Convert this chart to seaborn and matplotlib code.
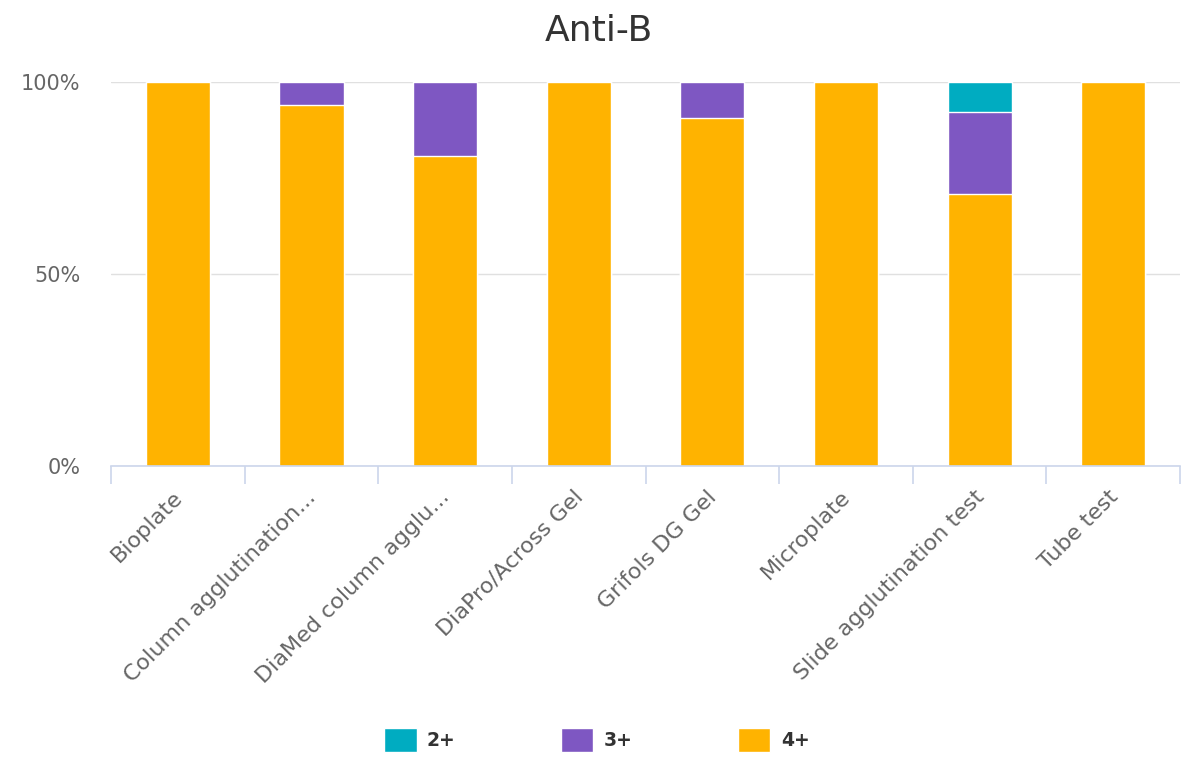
import numpy as np
import pandas as pd
import matplotlib
matplotlib.use("Agg")
import matplotlib.pyplot as plt
import matplotlib.transforms as mtransforms
import seaborn as sns

# Data (percent of results per method)
methods = ["Bioplate", "Column agglutination...", "DiaMed column agglu...",
           "DiaPro/Across Gel", "Grifols DG Gel", "Microplate",
           "Slide agglutination test", "Tube test"]
grade_2 = [0, 0, 0, 0, 0, 0, 7.8, 0]
grade_3 = [0, 6.0, 19.3, 0, 9.4, 0, 21.4, 0]
grade_4 = [100, 94.0, 80.7, 100, 90.6, 100, 70.8, 100]

series_names = ["2+", "3+", "4+"]
colors = {"2+": "#00acc1", "3+": "#7e57c2", "4+": "#ffb300"}

sns.set_style("white")
plt.rcParams['font.family'] = ['DejaVu Sans']

df = pd.DataFrame({"method": methods, "2+": grade_2, "3+": grade_3, "4+": grade_4})
# stacked: draw cumulative heights, tallest first
df["top_4"] = df["4+"]
df["top_3"] = df["4+"] + df["3+"]
df["top_2"] = df["4+"] + df["3+"] + df["2+"]

fig = plt.figure(figsize=(11.98, 7.61), dpi=100)
ax = fig.add_axes([0.0927, 0.3876, 0.8923, 0.5044])

for col, name in [("top_2", "2+"), ("top_3", "3+"), ("top_4", "4+")]:
    sns.barplot(data=df, x="method", y=col, color=colors[name], width=0.48,
                edgecolor="white", linewidth=1, saturation=1, ax=ax, label=name)

ax.set_xlim(-0.5, len(methods) - 0.5)
ax.set_ylim(0, 100)
ax.set_xlabel("")
ax.set_ylabel("")

# y axis
ax.set_yticks([0, 50, 100])
ax.set_yticklabels(["0%", "50%", "100%"], color="#666666", fontsize=15)
ax.tick_params(axis="y", length=0, pad=22)
ax.grid(axis="y", color="#e0e0e0", linewidth=1)
ax.set_axisbelow(True)

# x axis: labels at centres, tick marks at category boundaries
ax.set_xticks(range(len(methods)))
ax.set_xticklabels(methods, rotation=45, ha="right", rotation_mode="anchor",
                   color="#666666", fontsize=16)
ax.tick_params(axis="x", which="major", length=0, pad=15)
shift = mtransforms.ScaledTranslation(-4 / 72, 0, fig.dpi_scale_trans)
for lab in ax.get_xticklabels():
    lab.set_transform(lab.get_transform() + shift)
ax.set_xticks(np.arange(-0.5, len(methods)), minor=True)
ax.tick_params(axis="x", which="minor", bottom=True, length=13, width=1.2,
               color="#ccd6eb", direction="out")

for s in ["top", "right", "left"]:
    ax.spines[s].set_visible(False)
ax.spines["bottom"].set_color("#ccd6eb")
ax.spines["bottom"].set_linewidth(1.2)

fig.suptitle("Anti-B", y=0.982, fontsize=26, color="#333333")

# legend at bottom in order 2+, 3+, 4+
handles, labels = ax.get_legend_handles_labels()
order = [labels.index(n) for n in series_names]
leg = fig.legend([handles[i] for i in order], series_names, loc="center",
                 bbox_to_anchor=(0.498, 0.028), ncol=3, frameon=False,
                 prop={"weight": "bold", "size": 13.5}, handlelength=1.75,
                 handleheight=1.6, handletextpad=0.55, columnspacing=5.6)
for t in leg.get_texts():
    t.set_color("#333333")
if ax.get_legend():
    ax.get_legend().remove()

fig.savefig("out.png", dpi=100)
